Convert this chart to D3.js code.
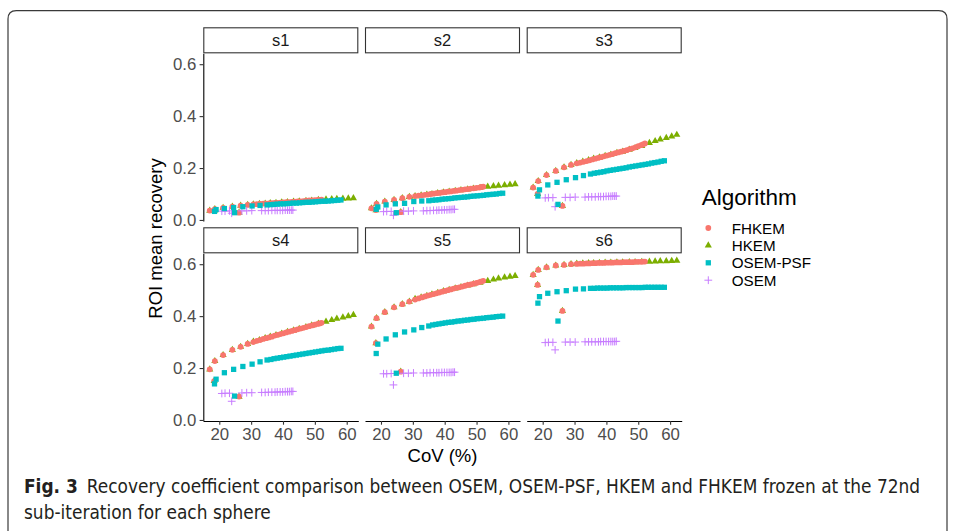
<!DOCTYPE html>
<html>
<head>
<meta charset="utf-8">
<script src="https://cdn.jsdelivr.net/npm/d3@7"></script>
<style>
  body { margin: 0; background: #fff; }
  text { font-family: "Liberation Sans", Arial, sans-serif; }
</style>
</head>
<body>
<svg id="fig"></svg>
<script>
// Define data (CoV is shared by all spheres, recovery is per sphere s1..s6)
const spheres = ["s1", "s2", "s3", "s4", "s5", "s6"];
const algorithms = ["FHKEM", "HKEM", "OSEM-PSF", "OSEM"];
const yTicks = [0, 0.2, 0.4, 0.6];
const xTicks = [20, 30, 40, 50, 60];

const covFHKEM = [26.2, 18.4, 17.0, 18.6, 21.2, 24.1, 26.7, 28.9, 30.7, 31.8, 32.8, 33.8, 34.7, 35.6, 36.5,
  37.4, 38.3, 39.2, 40.1, 41.0, 41.9, 42.8, 43.7, 44.6, 45.5, 46.4, 47.3, 48.2, 49.1, 50.0, 50.9, 51.5, 52.1];
const covHKEM = [26.2, 18.4, 17.0, 18.6, 21.2, 24.1, 26.7, 28.9, 30.7, 32.6, 34.4, 36.0, 37.8, 39.6, 41.4,
  43.3, 45.1, 47.2, 49.0, 51.1, 53.5, 55.3, 56.9, 58.8, 60.5, 62.1];
const covPSF = [24.8, 18.5, 19.0, 21.6, 24.5, 27.4, 30.3, 32.8, 35.0, 36.2, 37.2, 38.2, 39.2, 40.2, 41.2, 42.2,
  43.2, 44.2, 45.2, 46.2, 47.2, 48.2, 49.2, 50.2, 51.2, 52.2, 53.2, 54.2, 55.2, 56.2, 57.2, 58.2];
const covOSEM = [23.9, 20.8, 21.8, 23.2, 27.1, 28.6, 30.2, 33.3, 34.4, 35.4, 36.5, 37.5, 38.2, 39.1, 39.9,
  40.7, 41.4, 42.0, 42.6, 43.1];

const recFHKEM = [
  [0.028, 0.035, 0.036, 0.042, 0.047, 0.051, 0.055, 0.058, 0.060, 0.061, 0.062, 0.063, 0.063, 0.064, 0.065, 0.066, 0.066,
   0.067, 0.068, 0.069, 0.069, 0.070, 0.071, 0.072, 0.072, 0.073, 0.074, 0.075, 0.075, 0.076, 0.077, 0.077, 0.078],
  [0.030, 0.038, 0.045, 0.062, 0.071, 0.077, 0.084, 0.089, 0.092, 0.094, 0.095, 0.097, 0.098, 0.100, 0.101, 0.103, 0.104,
   0.106, 0.107, 0.109, 0.110, 0.112, 0.113, 0.115, 0.116, 0.118, 0.119, 0.121, 0.122, 0.124, 0.125, 0.127, 0.128],
  [0.054, 0.100, 0.125, 0.150, 0.173, 0.189, 0.203, 0.212, 0.218, 0.221, 0.224, 0.227, 0.230, 0.233, 0.236, 0.239, 0.242,
   0.245, 0.248, 0.251, 0.254, 0.257, 0.260, 0.263, 0.266, 0.269, 0.273, 0.276, 0.280, 0.284, 0.288, 0.291, 0.295],
  [0.090, 0.150, 0.195, 0.227, 0.250, 0.270, 0.282, 0.293, 0.300, 0.305, 0.308, 0.312, 0.315, 0.318, 0.321, 0.325, 0.328,
   0.331, 0.334, 0.337, 0.340, 0.343, 0.346, 0.349, 0.352, 0.355, 0.358, 0.361, 0.364, 0.367, 0.370, 0.372, 0.374],
  [0.186, 0.296, 0.360, 0.392, 0.415, 0.434, 0.446, 0.456, 0.464, 0.468, 0.472, 0.476, 0.479, 0.482, 0.485, 0.488, 0.491,
   0.494, 0.497, 0.500, 0.503, 0.506, 0.509, 0.511, 0.514, 0.517, 0.520, 0.522, 0.525, 0.528, 0.531, 0.533, 0.536],
  [0.420, 0.520, 0.559, 0.578, 0.588, 0.595, 0.597, 0.600, 0.601, 0.602, 0.602, 0.603, 0.603, 0.604, 0.604, 0.605, 0.605,
   0.605, 0.606, 0.606, 0.606, 0.607, 0.607, 0.607, 0.608, 0.608, 0.608, 0.608, 0.609, 0.609, 0.609, 0.610, 0.610]
];
const recHKEM = [
  [0.028, 0.035, 0.036, 0.042, 0.047, 0.051, 0.055, 0.058, 0.060, 0.062, 0.063, 0.065, 0.066, 0.068, 0.069, 0.071, 0.072,
   0.074, 0.075, 0.077, 0.079, 0.080, 0.081, 0.082, 0.083, 0.084],
  [0.030, 0.038, 0.045, 0.062, 0.071, 0.077, 0.084, 0.089, 0.092, 0.095, 0.098, 0.100, 0.103, 0.106, 0.109, 0.112, 0.115,
   0.118, 0.121, 0.124, 0.128, 0.130, 0.132, 0.134, 0.136, 0.138],
  [0.054, 0.100, 0.125, 0.150, 0.173, 0.189, 0.203, 0.212, 0.219, 0.225, 0.231, 0.236, 0.241, 0.247, 0.252, 0.258, 0.263,
   0.271, 0.277, 0.285, 0.297, 0.304, 0.310, 0.316, 0.322, 0.328],
  [0.090, 0.150, 0.195, 0.227, 0.250, 0.270, 0.282, 0.293, 0.302, 0.308, 0.315, 0.321, 0.327, 0.333, 0.339, 0.345, 0.351,
   0.358, 0.364, 0.371, 0.379, 0.385, 0.390, 0.395, 0.400, 0.405],
  [0.186, 0.296, 0.360, 0.392, 0.415, 0.434, 0.446, 0.456, 0.466, 0.472, 0.478, 0.484, 0.490, 0.496, 0.501, 0.507, 0.512,
   0.518, 0.523, 0.529, 0.536, 0.541, 0.545, 0.549, 0.552, 0.555],
  [0.420, 0.520, 0.559, 0.578, 0.588, 0.595, 0.597, 0.600, 0.602, 0.603, 0.604, 0.604, 0.605, 0.606, 0.606, 0.607, 0.607,
   0.608, 0.608, 0.609, 0.610, 0.611, 0.612, 0.612, 0.613, 0.614]
];
const recPSF = [
  [0.028, 0.033, 0.040, 0.044, 0.048, 0.051, 0.054, 0.056, 0.058, 0.059, 0.060, 0.061, 0.062, 0.062, 0.063, 0.064, 0.065,
   0.065, 0.066, 0.067, 0.068, 0.068, 0.069, 0.070, 0.071, 0.072, 0.072, 0.073, 0.074, 0.075, 0.076, 0.077],
  [0.028, 0.041, 0.050, 0.058, 0.062, 0.064, 0.071, 0.073, 0.074, 0.076, 0.077, 0.078, 0.080, 0.081, 0.082, 0.083, 0.085,
   0.086, 0.087, 0.088, 0.089, 0.091, 0.092, 0.093, 0.094, 0.095, 0.097, 0.098, 0.099, 0.100, 0.102, 0.103],
  [0.060, 0.092, 0.116, 0.135, 0.145, 0.155, 0.163, 0.171, 0.177, 0.180, 0.182, 0.184, 0.186, 0.189, 0.191, 0.193, 0.195,
   0.197, 0.199, 0.201, 0.204, 0.206, 0.208, 0.210, 0.212, 0.214, 0.216, 0.219, 0.221, 0.223, 0.226, 0.228],
  [0.092, 0.139, 0.157, 0.182, 0.195, 0.206, 0.215, 0.224, 0.231, 0.233, 0.236, 0.238, 0.240, 0.242, 0.244, 0.246, 0.248,
   0.250, 0.252, 0.254, 0.256, 0.258, 0.260, 0.262, 0.264, 0.266, 0.268, 0.269, 0.271, 0.273, 0.275, 0.276],
  [0.180, 0.256, 0.292, 0.312, 0.328, 0.339, 0.347, 0.356, 0.362, 0.366, 0.368, 0.370, 0.372, 0.374, 0.376, 0.377, 0.379,
   0.381, 0.382, 0.384, 0.385, 0.387, 0.388, 0.390, 0.391, 0.392, 0.394, 0.395, 0.396, 0.398, 0.399, 0.400],
  [0.381, 0.450, 0.475, 0.488, 0.494, 0.498, 0.504, 0.505, 0.507, 0.507, 0.508, 0.508, 0.508, 0.508, 0.509, 0.509, 0.509,
   0.509, 0.509, 0.510, 0.510, 0.510, 0.510, 0.510, 0.510, 0.511, 0.511, 0.511, 0.511, 0.511, 0.511, 0.511]
];
const recOSEM = [
  [0.026, 0.034, 0.034, 0.035, 0.035, 0.035, 0.036, 0.036, 0.036, 0.036, 0.037, 0.037, 0.037, 0.037, 0.037, 0.038, 0.038,
   0.038, 0.038, 0.038],
  [0.018, 0.032, 0.033, 0.033, 0.034, 0.034, 0.035, 0.035, 0.036, 0.036, 0.037, 0.037, 0.038, 0.038, 0.039, 0.039, 0.040,
   0.040, 0.041, 0.041],
  [0.051, 0.085, 0.086, 0.086, 0.087, 0.087, 0.088, 0.088, 0.089, 0.089, 0.089, 0.090, 0.090, 0.090, 0.091, 0.091, 0.091,
   0.092, 0.092, 0.092],
  [0.072, 0.102, 0.103, 0.103, 0.104, 0.105, 0.105, 0.106, 0.106, 0.107, 0.107, 0.107, 0.108, 0.108, 0.108, 0.109, 0.109,
   0.109, 0.110, 0.110],
  [0.135, 0.178, 0.178, 0.179, 0.180, 0.180, 0.181, 0.181, 0.181, 0.182, 0.182, 0.182, 0.182, 0.183, 0.183, 0.183, 0.183,
   0.183, 0.184, 0.184],
  [0.270, 0.298, 0.299, 0.299, 0.300, 0.300, 0.300, 0.301, 0.301, 0.301, 0.301, 0.301, 0.302, 0.302, 0.302, 0.302, 0.302,
   0.302, 0.302, 0.303]
];

// Colours / shapes per algorithm (ggplot defaults)
const colors = { "FHKEM": "#F8766D", "HKEM": "#7CAE00", "OSEM-PSF": "#00BFC4", "OSEM": "#C77CFF" };
const series = { "FHKEM": [covFHKEM, recFHKEM], "HKEM": [covHKEM, recHKEM], "OSEM-PSF": [covPSF, recPSF], "OSEM": [covOSEM, recOSEM] };
const drawOrder = ["HKEM", "FHKEM", "OSEM", "OSEM-PSF"];

const shapePath = {
  "FHKEM": d3.symbol(d3.symbolCircle, 26)(),
  "HKEM": d3.symbol(d3.symbolTriangle, 22)(),
  "OSEM-PSF": d3.symbol(d3.symbolSquare, 28)(),
  "OSEM": "M-3.9,0H3.9M0,-3.9V3.9"
};

// Layout
const W = 955, H = 531;
const left0 = 203.3, pw = 155, gapX = 6.7;
const top0 = 27.3, stripH = 26, ph = 167.7, gapY = 6.3;

const svg = d3.select("#fig").attr("width", W).attr("height", H);
svg.append("rect").attr("width", W).attr("height", H).attr("fill", "#fff");

// Outer figure frame (rounded, open at bottom)
svg.append("path")
  .attr("d", "M8,545V19Q8,10.7 16.3,10.7H938.7Q947,10.7 947,19V545")
  .attr("fill", "none").attr("stroke", "#3a3a3a").attr("stroke-width", 1.2);

// Scales
const x = d3.scaleLinear().domain([14.98, 63.64]).range([0, pw]);
const y = d3.scaleLinear().domain([-0.004, 0.642]).range([ph, 0]);

spheres.forEach((s, i) => {
  const col = i % 3, row = Math.floor(i / 3);
  const gx = left0 + col * (pw + gapX);
  const sy = top0 + row * (stripH + ph + gapY);
  const g = svg.append("g").attr("transform", `translate(${gx},${sy + stripH})`);

  // Strip
  svg.append("rect")
    .attr("x", gx + 0.5).attr("y", sy + 0.5)
    .attr("width", pw - 1).attr("height", stripH - 1)
    .attr("fill", "#fff").attr("stroke", "#333").attr("stroke-width", 1.1);
  svg.append("text")
    .attr("x", gx + pw / 2).attr("y", sy + stripH / 2 + 6)
    .attr("text-anchor", "middle").attr("fill", "#1a1a1a")
    .style("font-size", "16.5px").text(s);

  // Points
  drawOrder.forEach(a => {
    const [cov, rec] = series[a];
    const pts = cov.map((c, k) => [c, rec[i][k]]);
    g.selectAll(null).data(pts).enter().append("path")
      .attr("transform", d => `translate(${x(d[0])},${y(d[1])})`)
      .attr("d", shapePath[a])
      .attr("fill", a === "OSEM" ? "none" : colors[a])
      .attr("stroke", a === "OSEM" ? colors[a] : "none")
      .attr("stroke-width", 1);
  });

  // Axes
  if (col === 0) {
    const ay = g.append("g")
      .call(d3.axisLeft(y).tickValues(yTicks).tickFormat(d3.format(".1f"))
        .tickSize(3.7).tickSizeOuter(0).tickPadding(3.3));
    styleAxis(ay);
  }
  if (row === 1) {
    const ax = g.append("g").attr("transform", `translate(0,${ph})`)
      .call(d3.axisBottom(x).tickValues(xTicks).tickSize(3.7).tickSizeOuter(0).tickPadding(3.3));
    styleAxis(ax);
  }
});

function styleAxis(a) {
  a.select(".domain").attr("stroke", "#000").attr("stroke-width", 1.1);
  a.selectAll(".tick line").attr("stroke", "#333").attr("stroke-width", 1.1);
  a.selectAll(".tick text").attr("fill", "#4d4d4d")
    .style("font-size", "16.8px").style("font-family", "'Liberation Sans', Arial, sans-serif");
}

// Axis titles
svg.append("text")
  .attr("x", left0 + (3 * pw + 2 * gapX) / 2).attr("y", 462)
  .attr("text-anchor", "middle").attr("fill", "#000")
  .style("font-size", "18.5px").text("CoV (%)");
svg.append("text")
  .attr("transform", "translate(161.7,238.5) rotate(-90)")
  .attr("text-anchor", "middle").attr("fill", "#000")
  .style("font-size", "18.5px").text("ROI mean recovery");

// Legend
const legend = svg.append("g").attr("transform", "translate(701.7,0)");
legend.append("text").attr("x", 0).attr("y", 205)
  .style("font-size", "22.5px").attr("fill", "#000").text("Algorithm");
algorithms.forEach((a, k) => {
  const cy = 228 + k * 17.4;
  legend.append("path")
    .attr("transform", `translate(6.6,${cy})`)
    .attr("d", shapePath[a])
    .attr("fill", a === "OSEM" ? "none" : colors[a])
    .attr("stroke", a === "OSEM" ? colors[a] : "none")
    .attr("stroke-width", 1);
  legend.append("text").attr("x", 30).attr("y", cy + 5.5)
    .style("font-size", "15.2px").attr("fill", "#000").text(a);
});

// Caption (condensed font, fitted to the reference line width)
const capFont = "'Liberation Sans Narrow', 'DejaVu Sans Condensed', sans-serif";
const cap1 = svg.append("text").attr("x", 24).attr("y", 493)
  .style("font-family", capFont).style("font-size", "19px").attr("fill", "#231f20");
cap1.append("tspan").style("font-weight", "bold").text("Fig. 3");
cap1.append("tspan").attr("dx", 9)
  .text("Recovery coefficient comparison between OSEM, OSEM-PSF, HKEM and FHKEM frozen at the 72nd");
const cap2 = svg.append("text").attr("x", 24).attr("y", 519)
  .style("font-family", capFont).style("font-size", "19px").attr("fill", "#231f20")
  .text("sub-iteration for each sphere");
const capW = cap1.node().getComputedTextLength();
const capSize = 19 * 888 / capW;
cap1.style("font-size", capSize + "px");
cap2.style("font-size", capSize + "px");
</script>
</body>
</html>
